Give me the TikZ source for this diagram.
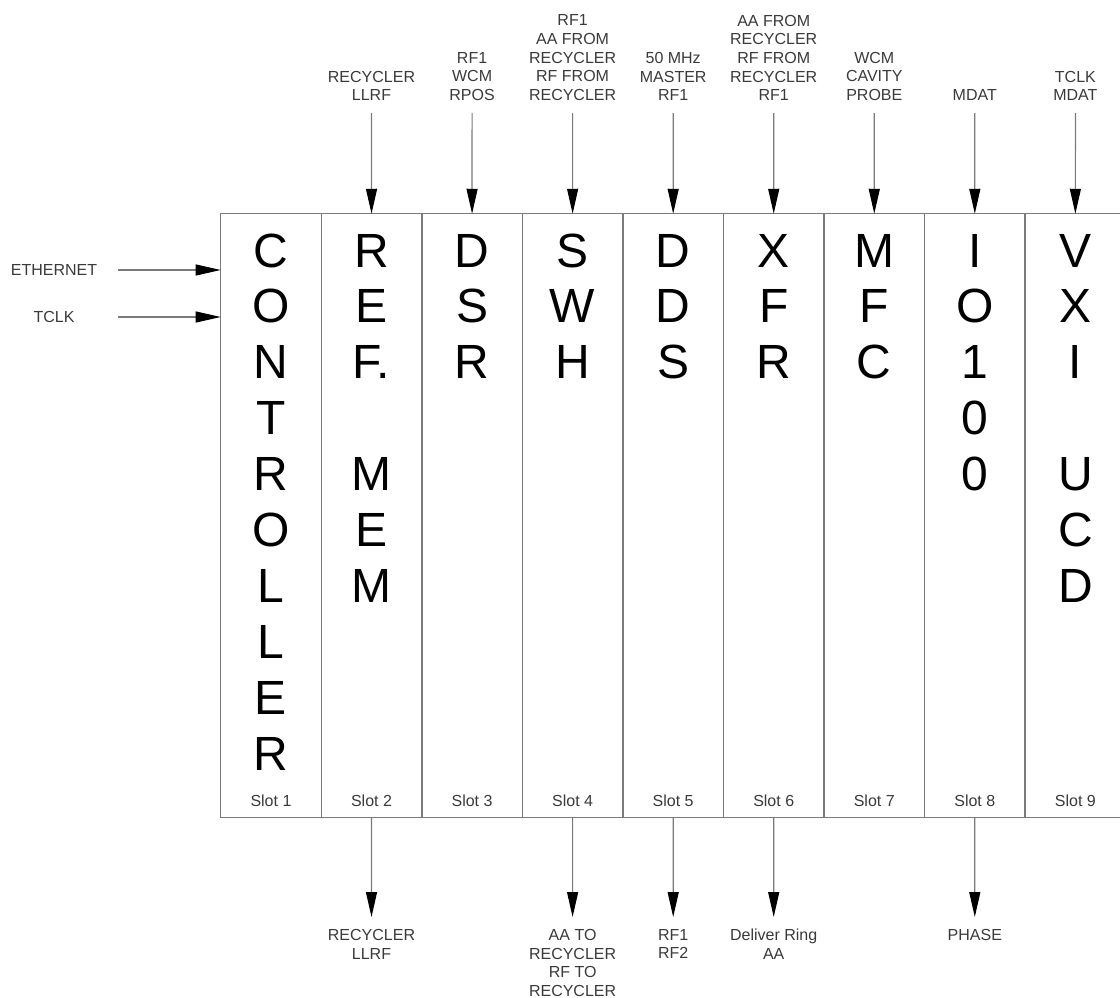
\documentclass[tikz,border=0pt]{standalone}
\usepackage{fontspec}
\setmainfont{Liberation Sans}
\usetikzlibrary{arrows.meta}
\definecolor{boxgray}{HTML}{7A7A7A}
\definecolor{lblgray}{HTML}{3A3A3A}
\begin{document}
\begin{tikzpicture}[x=1pt,y=-1pt,
  slotbox/.style={draw=boxgray,line width=1.4pt,minimum width=100.55pt,minimum height=603.5pt,inner sep=0pt,outer sep=0pt},
  bigletter/.style={font=\fontsize{48}{48}\selectfont,anchor=base,inner sep=0pt},
  lbl/.style={font=\fontsize{16}{18.7}\selectfont,text=lblgray,align=center,inner xsep=0pt},
  toplbl/.style={lbl,anchor=south,inner ysep=12pt},
  botlbl/.style={lbl,anchor=north,inner ysep=12pt},
  sidelbl/.style={lbl,text width=88pt,inner xsep=20pt,inner ysep=0pt},
  slotlbl/.style={font=\fontsize{16}{18}\selectfont,text=lblgray,anchor=base,inner sep=0pt},
  sig/.style={draw=boxgray,line width=1.2pt,-{Triangle[length=25pt,width=11pt,color=black]}}
]
\clip (0,0) rectangle (1120,998);
% slots
\foreach \k in {1,...,9}
  \node[slotbox] (s\k) at ({220.7+100.55*(\k-0.5)},515.5) {};
% big letters
\foreach \k/\letters in {1/{C,O,N,T,R,O,L,L,E,R},2/{R,E,F.,{},M,E,M},3/{D,S,R},4/{S,W,H},5/{D,D,S},6/{X,F,R},7/{M,F,C},8/{I,O,1,0,0},9/{V,X,I,{},U,C,D}}
  \foreach \c [count=\r from 0] in \letters
    \node[bigletter] (L\k-\r) at ({220.7+100.55*(\k-0.5)},{267+55.9*\r}) {\c};
% slot labels
\foreach \k in {1,...,9}
  \node[slotlbl] (sl\k) at ({220.7+100.55*(\k-0.5)},806) {Slot \k};
% top inputs
\node[toplbl] (t2) at (371.5,113) {RECYCLER\\LLRF};
\node[toplbl] (t3) at (472.1,113) {RF1\\WCM\\RPOS};
\node[toplbl] (t4) at (572.6,113) {RF1\\AA FROM\\RECYCLER\\RF FROM\\RECYCLER};
\node[toplbl] (t5) at (673.2,113) {50 MHz\\MASTER\\RF1};
\node[toplbl] (t6) at (773.7,113) {AA FROM\\RECYCLER\\RF FROM\\RECYCLER\\RF1};
\node[toplbl] (t7) at (874.3,113) {WCM\\CAVITY\\PROBE};
\node[toplbl] (t8) at (974.8,113) {MDAT};
\node[toplbl] (t9) at (1075.4,113) {TCLK\\MDAT};
\foreach \k in {2,...,9}
  \draw[sig] (t\k.south) -- (s\k.north);
% side inputs
\node[sidelbl] (eth) at (54,270) {ETHERNET};
\node[sidelbl] (tclk) at (54,317) {TCLK};
\draw[sig] (eth.east) -- (eth.east -| s1.west);
\draw[sig] (tclk.east) -- (tclk.east -| s1.west);
% bottom outputs
\node[botlbl] (b2) at (371.5,917) {RECYCLER\\LLRF};
\node[botlbl] (b4) at (572.6,917) {AA TO\\RECYCLER\\RF TO\\RECYCLER};
\node[botlbl] (b5) at (673.2,917) {RF1\\RF2};
\node[botlbl] (b6) at (773.7,917) {Deliver Ring\\AA};
\node[botlbl] (b8) at (974.8,917) {PHASE};
\foreach \k in {2,4,5,6,8}
  \draw[sig] (s\k.south) -- (b\k.north);
\end{tikzpicture}
\end{document}
